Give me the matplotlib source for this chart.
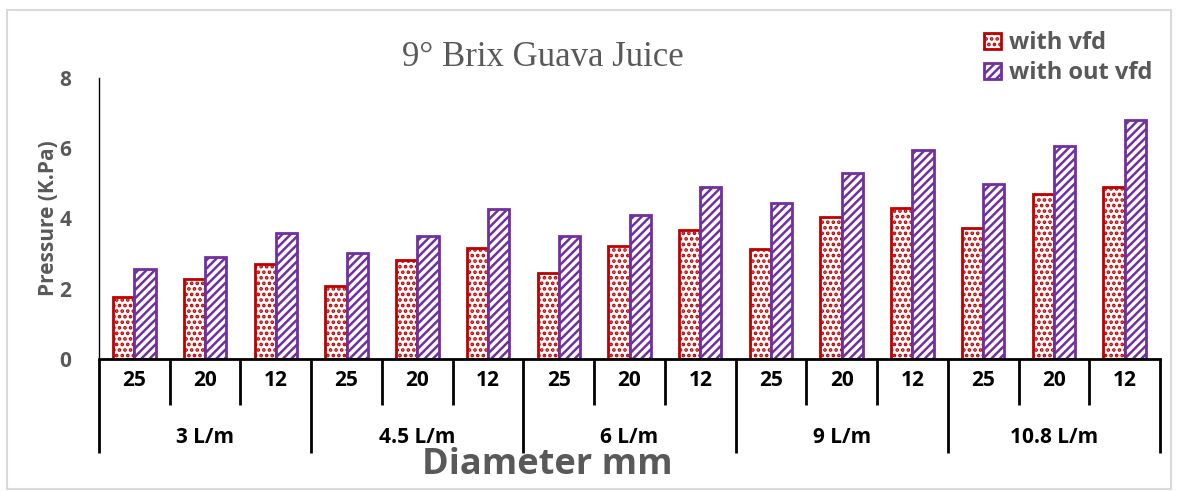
import numpy as np
import matplotlib
matplotlib.use("Agg")
from matplotlib import pyplot as plt
from matplotlib.patches import Rectangle

# data
flows = ['3 L/m', '4.5 L/m', '6 L/m', '9 L/m', '10.8 L/m']
diameters = ['25', '20', '12']
with_vfd = [1.77, 2.29, 2.71,
            2.09, 2.83, 3.17,
            2.46, 3.23, 3.66,
            3.14, 4.03, 4.30,
            3.74, 4.69, 4.91]
without_vfd = [2.57, 2.91, 3.60,
               3.03, 3.51, 4.26,
               3.49, 4.09, 4.91,
               4.43, 5.29, 5.94,
               4.99, 6.06, 6.80]
yticks = [0, 2, 4, 6, 8]

RED = '#C00000'
PURPLE = '#7030A0'
GRAY = '#595959'
plt.rcParams['hatch.linewidth'] = 1.8
font = 'Open Sans'

fig = plt.figure(figsize=(11.78, 4.91), dpi=100)
ax = fig.add_axes([99/1178, 1 - 359/491, (1160 - 99)/1178, (359 - 78)/491])

n = len(with_vfd)
x = np.arange(n)
w = 0.3
b1 = ax.bar(x - w/2, with_vfd, w, color='white', edgecolor=RED, hatch='...',
            linewidth=2, label='with vfd')
b2 = ax.bar(x + w/2, without_vfd, w, color='white', edgecolor=PURPLE, hatch='////',
            linewidth=2, label='with out vfd')

ax.set_xlim(-0.5, n - 0.5)
ax.set_ylim(0, 8)
ax.set_yticks(yticks)
ax.set_yticklabels([str(t) for t in yticks], fontsize=15, fontweight='bold',
                   color=GRAY, family=font)
ax.tick_params(axis='y', length=0, pad=20)
ax.set_xticks([])
for s in ['top', 'right']:
    ax.spines[s].set_visible(False)
ax.spines['left'].set_linewidth(1.0)
ax.spines['bottom'].set_linewidth(2.0)

ax.set_ylabel('Pressure (K.Pa)', fontsize=15, fontweight='bold', color=GRAY,
              family=font, labelpad=0)

# two-level category axis
tr = ax.get_xaxis_transform()
for i in range(n):
    ax.text(i, -0.075, diameters[i % 3], transform=tr, ha='center', va='center',
            fontsize=15, fontweight='bold', family=font)
for i in range(n + 1):
    bottom = -0.335 if i % 3 == 0 else -0.164
    ax.plot([i - 0.5, i - 0.5], [0, bottom], transform=tr, color='black',
            lw=2, clip_on=False, solid_capstyle='butt')
for g, name in enumerate(flows):
    ax.text(g * 3 + 1, -0.278, name, transform=tr, ha='center', va='center',
            fontsize=15, fontweight='bold', family=font)

fig.text(547/1178, 1 - 465/491, 'Diameter mm', ha='center', va='center',
         fontsize=26, fontweight='bold', color=GRAY, family=font)
fig.text(543/1178, 1 - 57/491, '9° Brix Guava Juice', ha='center', va='center',
         fontsize=25, color=GRAY, family='Liberation Serif')

leg = fig.legend(handles=[b1, b2], loc='upper left',
                 bbox_to_anchor=(975/1178, 1 - 22/491), frameon=False,
                 prop={'family': font, 'weight': 'bold', 'size': 17},
                 handlelength=0.7, handleheight=0.7, handletextpad=0.35,
                 labelspacing=0.25, borderaxespad=0)
for t in leg.get_texts():
    t.set_color(GRAY)

fig.patches.append(Rectangle((7/1178, 2/491), 1164/1178, 479/491,
                             transform=fig.transFigure, fill=False,
                             edgecolor='#D9D9D9', lw=1.5))

fig.savefig('out.png', dpi=100)
